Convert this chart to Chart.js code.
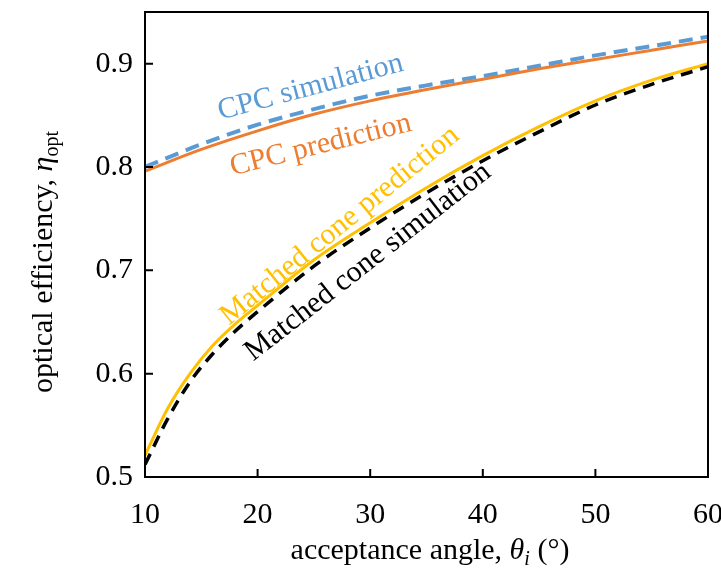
<!DOCTYPE html>
<html>
<head>
<meta charset="utf-8">
<script src="https://cdn.jsdelivr.net/npm/chart.js@4.4.1/dist/chart.umd.min.js"></script>
<style>
  body { margin: 0; background: #fff; }
  #wrap { width: 721px; height: 574px; }
</style>
</head>
<body>
<div id="wrap"><canvas id="chart1" width="721" height="574"></canvas></div>
<script>
//----------------- data ---------------------------------------------
const cpcAngles = [10, 15, 20, 25, 30, 35, 40, 45, 50, 55, 60];
const cpcSimulation = [0.800, 0.822, 0.841, 0.856, 0.869, 0.879, 0.888, 0.898, 0.908, 0.917, 0.926];
const cpcPrediction = [0.796, 0.817, 0.835, 0.851, 0.864, 0.875, 0.885, 0.895, 0.904, 0.913, 0.922];

const coneAngles = [10, 12, 14, 16, 18, 20, 25, 30, 35, 40, 45, 50, 55, 60];
const conePrediction = [0.521, 0.566, 0.600, 0.627, 0.648, 0.666, 0.710, 0.746, 0.780, 0.811, 0.839, 0.864, 0.884, 0.900];
const coneSimulation = [0.512, 0.556, 0.592, 0.619, 0.641, 0.660, 0.704, 0.741, 0.775, 0.806, 0.834, 0.860, 0.880, 0.897];

const xTicks = [10, 20, 30, 40, 50, 60];
const yTicks = [0.5, 0.6, 0.7, 0.8, 0.9];

// curve labels: text, anchor (data coords), angle in degrees, colour
const curveLabels = [
    { text: "CPC simulation", x: 24.7, y: 0.877, angle: -15, color: "#5B9BD5" },
    { text: "CPC prediction", x: 25.6, y: 0.821, angle: -14, color: "#ED7D31" },
    { text: "Matched cone prediction", x: 27.3, y: 0.743, angle: -39, color: "#FFC000" },
    { text: "Matched cone simulation", x: 29.8, y: 0.708, angle: -38, color: "#000000" }
];

const serif = "'Liberation Serif', 'Times New Roman', serif";

function toPoints(xs, ys) {
    return xs.map((x, i) => ({ x: x, y: ys[i] }));
}

// ---------- box, inward ticks, axis titles, curve labels -----------
const decorations = {
    id: "decorations",
    afterDatasetsDraw(chart) {
        const ctx = chart.ctx;
        const sx = chart.scales.x;
        const sy = chart.scales.y;
        ctx.save();
        curveLabels.forEach(l => {
            ctx.save();
            ctx.translate(sx.getPixelForValue(l.x), sy.getPixelForValue(l.y));
            ctx.rotate(l.angle * Math.PI / 180);
            ctx.font = "30px " + serif;
            ctx.fillStyle = l.color;
            ctx.textAlign = "center";
            ctx.textBaseline = "middle";
            ctx.fillText(l.text, 0, 0);
            ctx.restore();
        });
        ctx.restore();
    },
    afterDraw(chart) {
        const ctx = chart.ctx;
        const a = chart.chartArea;
        const sx = chart.scales.x;
        const sy = chart.scales.y;
        ctx.save();
        ctx.strokeStyle = "#000";
        ctx.lineWidth = 2;
        ctx.strokeRect(a.left, a.top, a.right - a.left, a.bottom - a.top);
        ctx.beginPath();
        xTicks.forEach(v => {
            const px = sx.getPixelForValue(v);
            ctx.moveTo(px, a.bottom);
            ctx.lineTo(px, a.bottom - 8);
        });
        yTicks.forEach(v => {
            const py = sy.getPixelForValue(v);
            ctx.moveTo(a.left, py);
            ctx.lineTo(a.left + 8, py);
        });
        ctx.stroke();

        // x title: acceptance angle, θi (°)
        ctx.fillStyle = "#000";
        ctx.textBaseline = "alphabetic";
        const xParts = [
            { t: "acceptance angle, ", f: "30px " + serif, dy: 0 },
            { t: "θ", f: "italic 30px " + serif, dy: 0 },
            { t: "i", f: "italic 20px " + serif, dy: 6 },
            { t: " (°)", f: "30px " + serif, dy: 0 }
        ];
        drawParts(ctx, xParts, 430, 559);

        // y title: optical efficiency, ηopt
        ctx.save();
        ctx.translate(52, 262);
        ctx.rotate(-Math.PI / 2);
        const yParts = [
            { t: "optical efficiency, ", f: "30px " + serif, dy: 0 },
            { t: "η", f: "italic 30px " + serif, dy: 0 },
            { t: "opt", f: "20px " + serif, dy: 6 }
        ];
        drawParts(ctx, yParts, 0, 0);
        ctx.restore();
        ctx.restore();
    }
};

function drawParts(ctx, parts, cx, baseY) {
    let total = 0;
    parts.forEach(p => { ctx.font = p.f; total += ctx.measureText(p.t).width; });
    let x = cx - total / 2;
    ctx.textAlign = "left";
    parts.forEach(p => {
        ctx.font = p.f;
        ctx.fillText(p.t, x, baseY + p.dy);
        x += ctx.measureText(p.t).width;
    });
}

// --------Create chart----------
const config = {
    type: "line",
    data: {
        datasets: [
            {
                label: "CPC prediction",
                data: toPoints(cpcAngles, cpcPrediction),
                borderColor: "#ED7D31",
                borderWidth: 3,
                cubicInterpolationMode: "monotone"
            },
            {
                label: "CPC simulation",
                data: toPoints(cpcAngles, cpcSimulation),
                borderColor: "#5B9BD5",
                borderWidth: 4,
                borderDash: [14, 8],
                cubicInterpolationMode: "monotone"
            },
            {
                label: "Matched cone simulation",
                data: toPoints(coneAngles, coneSimulation),
                borderColor: "#000000",
                borderWidth: 3.5,
                borderDash: [12, 8],
                cubicInterpolationMode: "monotone"
            },
            {
                label: "Matched cone prediction",
                data: toPoints(coneAngles, conePrediction),
                borderColor: "#FFC000",
                borderWidth: 3,
                cubicInterpolationMode: "monotone"
            }
        ]
    },
    options: {
        responsive: false,
        animation: false,
        elements: { point: { radius: 0 } },
        layout: { padding: { top: 12, right: 13, left: 0, bottom: 0 } },
        plugins: {
            legend: { display: false },
            tooltip: { enabled: false }
        },
        scales: {
            x: {
                type: "linear",
                min: 10,
                max: 60,
                grid: { display: false, drawTicks: false },
                border: { display: false },
                afterBuildTicks: s => { s.ticks = xTicks.map(v => ({ value: v })); },
                afterFit: s => { s.height = 97; s.paddingLeft = 0; s.paddingRight = 0; },
                ticks: {
                    color: "#000",
                    font: { family: serif, size: 30 },
                    padding: 20,
                    maxRotation: 0
                }
            },
            y: {
                type: "linear",
                min: 0.5,
                max: 0.95,
                grid: { display: false, drawTicks: false },
                border: { display: false },
                afterBuildTicks: s => { s.ticks = yTicks.map(v => ({ value: v })); },
                afterFit: s => { s.width = 145; s.paddingTop = 0; s.paddingBottom = 0; },
                ticks: {
                    color: "#000",
                    font: { family: serif, size: 30 },
                    padding: 12,
                    callback: v => v.toFixed(1)
                }
            }
        }
    },
    plugins: [decorations]
};

const myChart = new Chart(document.getElementById("chart1").getContext("2d"), config);
</script>
</body>
</html>
